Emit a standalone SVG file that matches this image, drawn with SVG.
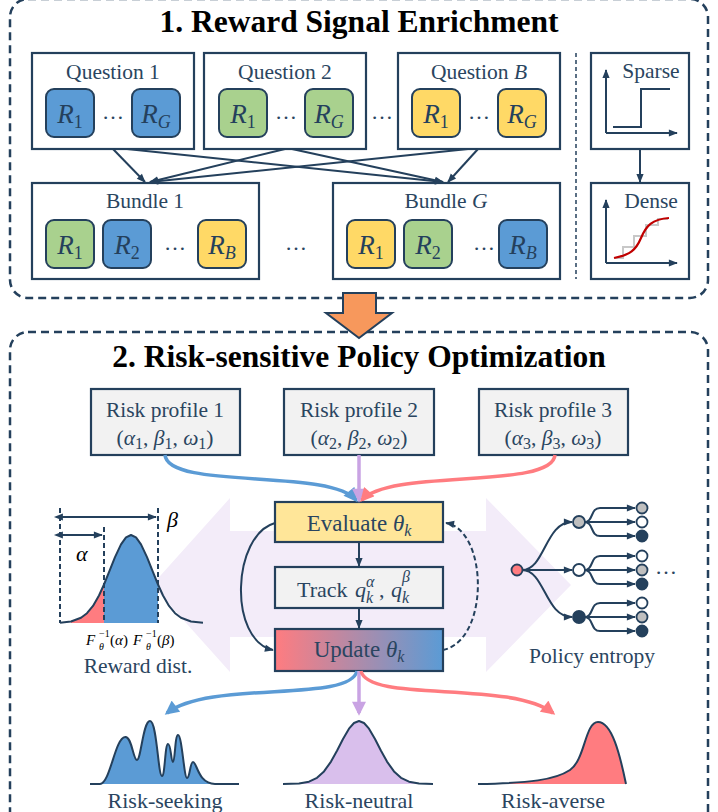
<svg xmlns="http://www.w3.org/2000/svg" width="718" height="812" viewBox="0 0 718 812">
<defs>
<style>
.frame{fill:none;stroke:#24405c;stroke-width:2.5;stroke-dasharray:8 5}
.box{fill:#fff;stroke:#24405c;stroke-width:2.2}
.rb{stroke:#24405c;stroke-width:2}
.blue{fill:#5b9bd5}.green{fill:#a9d18e}.yellow{fill:#ffd966}
.t{font-family:"Liberation Serif","Times New Roman",serif;font-size:21.5px;fill:#2a4560;text-anchor:middle}
.ts{font-family:"Liberation Serif","Times New Roman",serif;font-size:22px;fill:#2a4560}
.h{font-family:"Liberation Serif","Times New Roman",serif;font-size:31.5px;font-weight:bold;fill:#000;text-anchor:middle}
.r{font-family:"Liberation Serif","Times New Roman",serif;font-size:27px;fill:#24405c;text-anchor:middle;font-style:italic}
.i{font-style:italic}
.s{font-size:16px}
.rs{font-size:18px}
.dots{font-family:"Liberation Serif","Times New Roman",serif;font-size:22px;fill:#2a4560;text-anchor:middle}
.ln{fill:none;stroke:#24405c;stroke-width:2}
.dash{fill:none;stroke:#24405c;stroke-width:2;stroke-dasharray:5 3}
.gray{fill:#f2f2f2}
.f{font-family:"Liberation Serif","Times New Roman",serif;font-size:16px;fill:#000}
</style>
<marker id="ah" viewBox="0 0 10 10" refX="9" refY="5" markerWidth="10" markerHeight="9" markerUnits="userSpaceOnUse" orient="auto"><path d="M0,1 L10,5 L0,9 z" fill="#24405c"/></marker>
<marker id="ah2" viewBox="0 0 10 10" refX="1" refY="5" markerWidth="10" markerHeight="9" markerUnits="userSpaceOnUse" orient="auto-start-reverse"><path d="M0,1 L10,5 L0,9 z" fill="#24405c"/></marker>
<marker id="ab" viewBox="0 0 10 10" refX="8" refY="5" markerWidth="15" markerHeight="14" markerUnits="userSpaceOnUse" orient="auto"><path d="M0,0 L10,5 L0,10 z" fill="#5b9bd5"/></marker>
<marker id="ap" viewBox="0 0 10 10" refX="8" refY="5" markerWidth="15" markerHeight="14" markerUnits="userSpaceOnUse" orient="auto"><path d="M0,0 L10,5 L0,10 z" fill="#c9a3e3"/></marker>
<marker id="ar" viewBox="0 0 10 10" refX="8" refY="5" markerWidth="15" markerHeight="14" markerUnits="userSpaceOnUse" orient="auto"><path d="M0,0 L10,5 L0,10 z" fill="#ff7c80"/></marker>
<linearGradient id="ug" x1="0" y1="0" x2="1" y2="0"><stop offset="0" stop-color="#ff7c80"/><stop offset="1" stop-color="#5b9bd5"/></linearGradient>
</defs>
<rect width="718" height="812" fill="#fff"/>

<!-- Section 1 -->
<rect class="frame" x="10" y="-1" width="698" height="299" rx="18"/>
<text class="h" x="359" y="32">1. Reward Signal Enrichment</text>

<g id="q1">
<rect class="box" x="32" y="53" width="162" height="96"/>
<text class="t" x="113" y="79">Question 1</text>
<rect class="rb blue" x="46" y="89" width="48" height="48" rx="8"/>
<text class="r" x="70" y="123">R<tspan class="rs" font-style="normal" dy="5">1</tspan></text>
<text class="dots" x="113" y="119">…</text>
<rect class="rb blue" x="132" y="89" width="48" height="48" rx="8"/>
<text class="r" x="156" y="123">R<tspan class="rs" dy="5">G</tspan></text>
</g>
<g id="q2">
<rect class="box" x="204" y="53" width="162" height="96"/>
<text class="t" x="285" y="79">Question 2</text>
<rect class="rb green" x="219" y="89" width="48" height="48" rx="8"/>
<text class="r" x="243" y="123">R<tspan class="rs" font-style="normal" dy="5">1</tspan></text>
<text class="dots" x="286" y="119">…</text>
<rect class="rb green" x="305" y="89" width="48" height="48" rx="8"/>
<text class="r" x="329" y="123">R<tspan class="rs" dy="5">G</tspan></text>
</g>
<text class="dots" x="382" y="119">…</text>
<g id="qb">
<rect class="box" x="398" y="53" width="162" height="96"/>
<text class="t" x="479" y="79">Question <tspan class="i">B</tspan></text>
<rect class="rb yellow" x="412" y="89" width="48" height="48" rx="8"/>
<text class="r" x="436" y="123">R<tspan class="rs" font-style="normal" dy="5">1</tspan></text>
<text class="dots" x="479" y="119">…</text>
<rect class="rb yellow" x="498" y="89" width="48" height="48" rx="8"/>
<text class="r" x="522" y="123">R<tspan class="rs" dy="5">G</tspan></text>
</g>

<g id="b1">
<rect class="box" x="32" y="183" width="227" height="96"/>
<text class="t" x="145" y="208">Bundle 1</text>
<rect class="rb green" x="46" y="220" width="48" height="48" rx="8"/>
<text class="r" x="70" y="254">R<tspan class="rs" font-style="normal" dy="5">1</tspan></text>
<rect class="rb blue" x="103" y="220" width="48" height="48" rx="8"/>
<text class="r" x="127" y="254">R<tspan class="rs" font-style="normal" dy="5">2</tspan></text>
<text class="dots" x="175" y="250">…</text>
<rect class="rb yellow" x="198" y="220" width="48" height="48" rx="8"/>
<text class="r" x="222" y="254">R<tspan class="rs" dy="5">B</tspan></text>
</g>
<text class="dots" x="296" y="250">…</text>
<g id="bg">
<rect class="box" x="333" y="183" width="227" height="96"/>
<text class="t" x="446" y="208">Bundle <tspan class="i">G</tspan></text>
<rect class="rb yellow" x="347" y="220" width="48" height="48" rx="8"/>
<text class="r" x="371" y="254">R<tspan class="rs" font-style="normal" dy="5">1</tspan></text>
<rect class="rb green" x="404" y="220" width="48" height="48" rx="8"/>
<text class="r" x="428" y="254">R<tspan class="rs" font-style="normal" dy="5">2</tspan></text>
<text class="dots" x="484" y="250">…</text>
<rect class="rb blue" x="499" y="220" width="48" height="48" rx="8"/>
<text class="r" x="523" y="254">R<tspan class="rs" dy="5">B</tspan></text>
</g>

<line x1="576" y1="53" x2="576" y2="279" stroke="#24405c" stroke-width="1.5" stroke-dasharray="4 3"/>

<g id="sparse">
<rect class="box" x="591" y="53" width="98" height="96"/>
<text class="t" x="651" y="78">Sparse</text>
<path class="ln" d="M606,133 L606,70" marker-end="url(#ah)"/>
<path class="ln" d="M606,133 L677,133" marker-end="url(#ah)"/>
<path class="ln" d="M613,127 L641,127 L641,89 L670,89"/>
</g>
<g id="dense">
<rect class="box" x="591" y="183" width="98" height="96"/>
<text class="t" x="651" y="208">Dense</text>
<path class="ln" d="M606,263 L606,200" marker-end="url(#ah)"/>
<path class="ln" d="M606,263 L677,263" marker-end="url(#ah)"/>
<path d="M615,258 L623,258 L623,247 L634,247 L634,236 L646,236 L646,225 L658,225 L658,219 L668,219" fill="none" stroke="#c8c8c8" stroke-width="2"/>
<path d="M614,258 C630,255 636,250 641,238 C646,226 652,219 669,218" fill="none" stroke="#c00000" stroke-width="2.2"/>
</g>

<!-- Section 2 -->
<rect class="frame" x="10" y="332" width="698" height="520" rx="18"/>
<polygon points="343,293 376,293 376,313 392,313 359,338 326,313 343,313" fill="#f7985c" stroke="#24405c" stroke-width="2"/>
<text class="h" x="359" y="367">2. Risk-sensitive Policy Optimization</text>

<polygon points="152,585 230,498 230,531 486,531 486,498 571,585 486,672 486,637 230,637 230,672" fill="#f3ecf9"/>

<g id="rp1">
<rect class="box gray" x="91" y="389" width="149" height="66"/>
<text class="t" x="165" y="417">Risk profile 1</text>
<text class="t" x="165" y="445">(<tspan class="i">α</tspan><tspan class="s" dy="4">1</tspan><tspan dy="-4">, </tspan><tspan class="i">β</tspan><tspan class="s" dy="4">1</tspan><tspan dy="-4">, </tspan><tspan class="i">ω</tspan><tspan class="s" dy="4">1</tspan><tspan dy="-4">)</tspan></text>
</g>
<g id="rp2">
<rect class="box gray" x="284" y="389" width="150" height="66"/>
<text class="t" x="359" y="417">Risk profile 2</text>
<text class="t" x="359" y="445">(<tspan class="i">α</tspan><tspan class="s" dy="4">2</tspan><tspan dy="-4">, </tspan><tspan class="i">β</tspan><tspan class="s" dy="4">2</tspan><tspan dy="-4">, </tspan><tspan class="i">ω</tspan><tspan class="s" dy="4">2</tspan><tspan dy="-4">)</tspan></text>
</g>
<g id="rp3">
<rect class="box gray" x="479" y="389" width="149" height="66"/>
<text class="t" x="553" y="417">Risk profile 3</text>
<text class="t" x="553" y="445">(<tspan class="i">α</tspan><tspan class="s" dy="4">3</tspan><tspan dy="-4">, </tspan><tspan class="i">β</tspan><tspan class="s" dy="4">3</tspan><tspan dy="-4">, </tspan><tspan class="i">ω</tspan><tspan class="s" dy="4">3</tspan><tspan dy="-4">)</tspan></text>
</g>

<g id="evaluate">
<rect class="box" x="275" y="502" width="168" height="40" style="fill:#ffe699"/>
<text class="t" x="359" y="531" style="font-size:23px">Evaluate <tspan class="i">θ</tspan><tspan class="s i" dy="5">k</tspan></text>
</g>
<g id="track">
<rect class="box gray" x="275" y="567" width="168" height="41"/>
<text class="ts" x="297" y="597">Track</text>
<text class="ts i" x="355" y="597">q</text>
<text class="ts i s" x="366" y="587">α</text>
<text class="ts i s" x="366" y="603">k</text>
<text class="ts" x="379" y="597">,</text>
<text class="ts i" x="391" y="597">q</text>
<text class="ts i s" x="402" y="582">β</text>
<text class="ts i s" x="402" y="603">k</text>
</g>
<g id="update">
<rect class="box" x="275" y="629" width="168" height="42" style="fill:url(#ug)"/>
<text class="t" x="359" y="657" style="font-size:23px">Update <tspan class="i">θ</tspan><tspan class="s i" dy="5">k</tspan></text>
</g>

<g id="reward-dist">
<polygon points="71,621.5 81,617.8 87,613.2 93,605.9 99,595.5 104,584.5 104,623 71,623" fill="#ff7c80"/>
<polygon points="104,584.5 109,572.2 115,557.2 121,544.4 126,537.4 131,535 136,537.4 141,544.4 147,557.2 153,572.2 158,584.5 158,623 104,623" fill="#5b9bd5"/>
<polyline class="ln" stroke-width="2.2" stroke-linejoin="round" points="60,622.8 71,621.5 81,617.8 87,613.2 93,605.9 99,595.5 104,584.5 109,572.2 115,557.2 121,544.4 126,537.4 131,535 136,537.4 141,544.4 147,557.2 153,572.2 158,584.5 163,595.5 169,605.9 175,613.2 181,617.8 191,621.5 203,622.8"/>
<line class="dash" x1="60" y1="508" x2="60" y2="623"/>
<line class="dash" x1="104" y1="527" x2="104" y2="623"/>
<line class="dash" x1="158" y1="508" x2="158" y2="623"/>
<path class="ln" d="M62,517 L156,517" marker-start="url(#ah2)" marker-end="url(#ah)"/>
<path class="ln" d="M62,535 L102,535" marker-start="url(#ah2)" marker-end="url(#ah)"/>
<text class="ts i" x="167" y="527" style="fill:#000">β</text>
<text class="ts i" x="76" y="561" style="fill:#000">α</text>
<text class="f i" x="86" y="645" style="font-size:15px">F</text>
<text class="f i" x="99" y="649.5" style="font-size:10px">θ</text>
<text class="f" x="99" y="637" style="font-size:10px">−1</text>
<text class="f" x="110" y="645" style="font-size:15px">(<tspan class="i">α</tspan>)</text>
<text class="f i" x="133" y="645" style="font-size:15px">F</text>
<text class="f i" x="146" y="649.5" style="font-size:10px">θ</text>
<text class="f" x="146" y="637" style="font-size:10px">−1</text>
<text class="f" x="157" y="645" style="font-size:15px">(<tspan class="i">β</tspan>)</text>
<text class="t" x="138" y="673">Reward dist.</text>
</g>

<g id="policy-entropy">
<path class="ln" d="M522,570 C545,570 545,522 572,522" marker-end="url(#ah)"/>
<path class="ln" d="M522,570 L572,570" marker-end="url(#ah)"/>
<path class="ln" d="M522,570 C545,570 545,617 572,617" marker-end="url(#ah)"/>
<path class="ln" d="M584,522 C594,522 590,508 600,508 M584,522 C594,522 590,536 600,536"/>
<path class="ln" d="M584,522 L635,522" marker-end="url(#ah)"/>
<path class="ln" d="M600,508 L635,508" marker-end="url(#ah)"/>
<path class="ln" d="M600,536 L635,536" marker-end="url(#ah)"/>
<path class="ln" d="M584,570 C594,570 590,556 600,556 M584,570 C594,570 590,584 600,584"/>
<path class="ln" d="M584,570 L635,570" marker-end="url(#ah)"/>
<path class="ln" d="M600,556 L635,556" marker-end="url(#ah)"/>
<path class="ln" d="M600,584 L635,584" marker-end="url(#ah)"/>
<path class="ln" d="M584,617 C594,617 590,603 600,603 M584,617 C594,617 590,631 600,631"/>
<path class="ln" d="M584,617 L635,617" marker-end="url(#ah)"/>
<path class="ln" d="M600,603 L635,603" marker-end="url(#ah)"/>
<path class="ln" d="M600,631 L635,631" marker-end="url(#ah)"/>
<g stroke="#24405c" stroke-width="1.8">
<circle cx="517" cy="570" r="5.5" fill="#ff7c80"/>
<circle cx="579" cy="522" r="6" fill="#bfbfbf"/>
<circle cx="579" cy="570" r="6" fill="#fff"/>
<circle cx="579" cy="617" r="6" fill="#24405c"/>
<circle cx="642" cy="508" r="5.5" fill="#bfbfbf"/>
<circle cx="642" cy="522" r="5.5" fill="#fff"/>
<circle cx="642" cy="536" r="5.5" fill="#24405c"/>
<circle cx="642" cy="556" r="5.5" fill="#fff"/>
<circle cx="642" cy="570" r="5.5" fill="#bfbfbf"/>
<circle cx="642" cy="584" r="5.5" fill="#24405c"/>
<circle cx="642" cy="603" r="5.5" fill="#fff"/>
<circle cx="642" cy="617" r="5.5" fill="#bfbfbf"/>
<circle cx="642" cy="631" r="5.5" fill="#24405c"/>
</g>
<text class="dots" x="666" y="574">…</text>
<text class="t" x="592" y="663">Policy entropy</text>
</g>

<g id="risk-seeking">
<path d="M90,784 L100,784 C110,784 115,738 125,737 C132,736 133,760 137,760 C141,760 143,721 150,721 C157,721 158,776 162,776 C165,776 165,744 168,744 C171,744 171,762 173,762 C175,762 175,735 178,735 C182,735 184,778 187,778 C190,778 190,762 193,762 C197,762 198,784 215,784 Z" fill="#5b9bd5"/>
<path class="ln" stroke-width="2.2" d="M90,784 L100,784 C110,784 115,738 125,737 C132,736 133,760 137,760 C141,760 143,721 150,721 C157,721 158,776 162,776 C165,776 165,744 168,744 C171,744 171,762 173,762 C175,762 175,735 178,735 C182,735 184,778 187,778 C190,778 190,762 193,762 C197,762 198,784 215,784 L239,784"/>
<text class="t" x="165" y="808" style="font-size:22px">Risk-seeking</text>
</g>
<g id="risk-neutral">
<polygon fill="#d9bfec" points="299,783.5 309,781.7 317,777.8 324,771.4 331,761.6 337,750.7 343,739 349,728.7 354,723 359,721 364,723 369,728.7 375,739 381,750.7 387,761.6 394,771.4 401,777.8 409,781.7 419,783.5 419,784 299,784"/>
<polyline class="ln" stroke-width="2.2" stroke-linejoin="round" points="283,784 299,783.5 309,781.7 317,777.8 324,771.4 331,761.6 337,750.7 343,739 349,728.7 354,723 359,721 364,723 369,728.7 375,739 381,750.7 387,761.6 394,771.4 401,777.8 409,781.7 419,783.5 433,784"/>
<text class="t" x="359" y="808" style="font-size:22px">Risk-neutral</text>
</g>
<g id="risk-averse">
<path d="M478,784 C530,783 555,780 570,770 C585,760 585,722 598,722 C612,722 620,755 626,784 Z" fill="#ff7c80"/>
<path class="ln" stroke-width="2.2" d="M478,784 C530,783 555,780 570,770 C585,760 585,722 598,722 C612,722 620,755 626,784"/>
<text class="t" x="553" y="808" style="font-size:22px">Risk-averse</text>
</g>

<g id="connectors">
<path class="ln" d="M113,149 L145,182" marker-end="url(#ah)"/>
<path class="ln" d="M127,149 L443,182" marker-end="url(#ah)"/>
<path class="ln" d="M285,149 L150,182" marker-end="url(#ah)"/>
<path class="ln" d="M292,149 L443,182" marker-end="url(#ah)"/>
<path class="ln" d="M468,149 L150,182" marker-end="url(#ah)"/>
<path class="ln" d="M478,149 L448,182" marker-end="url(#ah)"/>
<path class="ln" d="M640,149 L640,182" marker-end="url(#ah)"/>
<path d="M165,455 C168,490 330,468 356,500" fill="none" stroke="#5b9bd5" stroke-width="3.5" marker-end="url(#ab)"/>
<path d="M359,455 L359,500" fill="none" stroke="#c9a3e3" stroke-width="3.5" marker-end="url(#ap)"/>
<path d="M555,455 C552,490 390,468 362,500" fill="none" stroke="#ff7c80" stroke-width="3.5" marker-end="url(#ar)"/>
<path class="ln" d="M359,542 L359,566" marker-end="url(#ah)"/>
<path class="ln" d="M359,608 L359,628" marker-end="url(#ah)"/>
<path class="ln" d="M275,523 C232,535 228,640 273,650" marker-end="url(#ah)"/>
<path class="dash" d="M443,650 C490,640 488,530 446,523" marker-end="url(#ah)"/>
<path d="M357,671 C350,703 210,680 167,713" fill="none" stroke="#5b9bd5" stroke-width="3.5" marker-end="url(#ab)"/>
<path d="M359,671 L359,713" fill="none" stroke="#c9a3e3" stroke-width="3.5" marker-end="url(#ap)"/>
<path d="M361,671 C368,703 510,680 553,713" fill="none" stroke="#ff7c80" stroke-width="3.5" marker-end="url(#ar)"/>
</g>
</svg>
